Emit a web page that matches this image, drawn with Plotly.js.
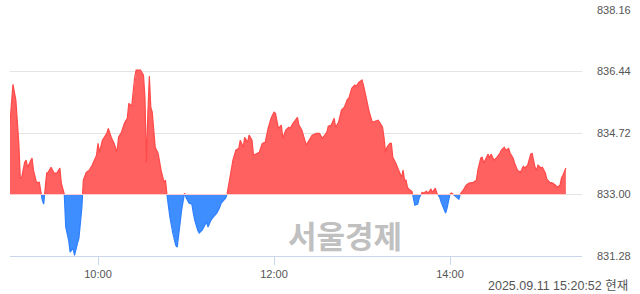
<!DOCTYPE html>
<html>
<head>
<meta charset="utf-8">
<script src="https://cdn.plot.ly/plotly-3.0.1.min.js"></script>
<style>html,body{margin:0;padding:0;background:#fff;}#chart{width:640px;height:294px;}</style>
</head>
<body>
<div id="chart"></div>
<script>
// ---- data ----
var sessionStart = '09:00';
var sessionEnd = '15:30';
var baseValue = 833.00;           // previous close (baseline)
var times = [
 '09:00','09:02','09:04','09:06','09:07','09:08','09:10','09:11','09:12','09:15','09:16','09:18','09:20','09:22','09:23','09:24','09:25','09:26','09:28','09:30','09:32','09:34','09:35','09:37','09:38','09:40','09:41','09:43','09:44','09:46','09:47','09:49','09:50','09:52','09:54','09:56','09:59',
 '10:00','10:01','10:03','10:06','10:07','10:09','10:11','10:13','10:14','10:16','10:18','10:20','10:21','10:23','10:25','10:26','10:29','10:31','10:32','10:33','10:34','10:35','10:36','10:37','10:39','10:41','10:43','10:45','10:46','10:47','10:49','10:51','10:53','10:54','10:55','10:57','10:59',
 '11:00','11:02','11:04','11:05','11:06','11:08','11:09','11:11','11:12','11:14','11:15','11:17','11:19','11:21','11:23','11:24','11:27','11:28','11:30','11:32','11:34','11:36','11:37','11:39','11:40','11:42','11:43','11:45','11:46','11:48','11:50','11:52','11:54','11:56','11:58',
 '12:00','12:01','12:03','12:05','12:06','12:08','12:10','12:11','12:13','12:16','12:17','12:19','12:21','12:22','12:24','12:26','12:29','12:31','12:33','12:36','12:37','12:39','12:41','12:42','12:44','12:46','12:48','12:50','12:51','12:53','12:55','12:56','12:58',
 '13:00','13:01','13:02','13:03','13:05','13:07','13:09','13:11','13:12','13:14','13:15','13:16','13:17','13:19','13:20','13:21','13:23','13:24','13:25','13:27','13:28','13:29','13:30','13:31','13:32','13:34','13:35','13:36','13:38','13:39','13:41','13:42','13:44','13:45','13:47','13:48','13:50','13:51','13:53','13:54','13:56','13:57','13:58',
 '14:00','14:01','14:03','14:05','14:06','14:07','14:09','14:11','14:13','14:14','14:16','14:18','14:19','14:21','14:22','14:23','14:24','14:26','14:27','14:28','14:30','14:32','14:34','14:35','14:37','14:38','14:40','14:41','14:43','14:44','14:46','14:48','14:50','14:51','14:53','14:55','14:56','14:57','14:58','14:59',
 '15:00','15:02','15:03','15:05','15:06','15:08','15:10','15:12','15:13','15:15','15:16','15:17','15:19'
];
var values = [
 834.99,836.08,835.64,834.43,833.46,833.48,833.90,833.96,833.76,834.02,833.68,833.34,833.34,832.84,832.73,833.20,833.60,833.62,833.76,833.60,833.60,833.74,833.32,833.01,832.09,831.72,831.39,831.50,831.30,831.64,831.78,832.64,833.40,833.62,833.68,833.82,834.10,
 834.43,834.18,834.52,834.71,834.85,834.60,834.43,834.18,834.60,834.74,834.99,835.13,835.55,835.47,836.28,836.48,836.48,836.34,835.72,833.90,835.27,836.31,835.44,835.30,834.32,834.15,833.68,833.34,833.40,833.00,832.37,831.92,831.58,831.53,831.92,832.56,833.04,
 832.92,832.76,832.73,832.48,832.28,832.00,831.92,832.00,832.09,832.23,832.09,832.28,832.39,832.48,832.64,832.76,832.90,833.01,833.48,833.96,834.24,834.29,834.52,834.32,834.60,834.46,834.66,834.52,834.10,834.15,834.18,834.43,834.46,834.85,835.13,
 835.30,835.27,834.85,834.94,834.57,834.80,834.88,834.85,834.99,835.16,834.94,834.80,834.52,834.38,834.52,834.66,834.71,834.71,834.57,834.74,834.91,834.94,835.13,834.88,835.02,835.36,835.44,835.66,835.69,835.97,836.06,836.03,836.14,
 836.20,836.06,835.86,835.64,835.30,835.02,835.05,835.08,835.02,834.88,834.60,834.18,834.32,834.43,834.43,834.04,833.88,833.76,833.68,833.48,833.68,833.40,833.40,833.20,833.15,833.09,832.92,832.70,832.73,832.90,833.06,833.04,833.09,833.04,833.15,833.06,833.18,833.04,832.92,832.78,832.56,832.48,832.62,
 833.01,833.04,832.98,832.92,832.87,833.01,833.12,833.26,833.32,833.32,833.34,833.40,833.68,834.02,834.04,833.88,833.96,834.13,834.02,834.13,833.96,834.04,834.15,834.24,834.32,834.24,834.29,834.15,834.02,833.88,833.68,833.62,833.79,833.74,833.82,834.13,834.15,833.96,833.76,833.68,
 833.82,833.74,833.76,833.60,833.43,833.34,833.32,833.26,833.20,833.26,833.46,833.54,833.74
];
var xTickLabels = ['10:00','12:00','14:00'];
var yTickValues = [831.28, 833.00, 834.72, 836.44, 838.16];
var stampText = '2025.09.11 15:20:52 현재';
var watermarkText = '서울경제';

// ---- helpers ----
function toMin(s){ var p = s.split(':'); return (+p[0])*60 + (+p[1]); }
var t0 = toMin(sessionStart);
var xs = times.map(function(s){ return toMin(s) - t0; });

// split into above / below baseline, inserting the crossing points
var fx = [], upY = [], dnY = [], lineUp = [], lineDn = [];
function pushPt(x, v, cross){
  fx.push(x);
  upY.push(Math.max(v, baseValue));
  dnY.push(Math.min(v, baseValue));
  lineUp.push(cross || v >= baseValue ? v : null);
  lineDn.push(cross || v <= baseValue ? v : null);
}
for (var i = 0; i < xs.length; i++) {
  pushPt(xs[i], values[i], false);
  if (i < xs.length - 1) {
    var a = values[i] - baseValue, b = values[i+1] - baseValue;
    if (a * b < 0) {
      var xc = xs[i] + (xs[i+1] - xs[i]) * (a / (a - b));
      pushPt(xc, baseValue, true);
    }
  }
}
var baseY = fx.map(function(){ return baseValue; });

var red = '#ff4a4a', redFill = 'rgba(255,96,96,1)';
var blue = '#2f80ff', blueFill = 'rgba(62,142,255,1)';

var traces = [
  {x: fx, y: baseY, mode: 'lines', line: {width: 0, color: 'rgba(0,0,0,0)'}, hoverinfo: 'skip', showlegend: false},
  {x: fx, y: upY, mode: 'lines', line: {width: 0, color: red}, fill: 'tonexty', fillcolor: redFill, hoverinfo: 'skip', showlegend: false},
  {x: fx, y: baseY, mode: 'lines', line: {width: 0, color: 'rgba(0,0,0,0)'}, hoverinfo: 'skip', showlegend: false},
  {x: fx, y: dnY, mode: 'lines', line: {width: 0, color: blue}, fill: 'tonexty', fillcolor: blueFill, hoverinfo: 'skip', showlegend: false},
  {x: fx, y: lineUp, mode: 'lines', line: {width: 1.2, color: red}, connectgaps: false, hoverinfo: 'skip', showlegend: false},
  {x: fx, y: lineDn, mode: 'lines', line: {width: 1.2, color: blue}, connectgaps: false, hoverinfo: 'skip', showlegend: false}
];

var tickFont = {family: 'Liberation Sans, Arial, sans-serif', size: 11, color: '#555555'};

var layout = {
  width: 640, height: 294,
  margin: {l: 10, r: 58, t: 10, b: 38, pad: 0},
  paper_bgcolor: '#ffffff', plot_bgcolor: '#ffffff',
  showlegend: false,
  xaxis: {
    type: 'linear',
    range: [0, toMin(sessionEnd) - t0],
    tickvals: xTickLabels.map(function(s){ return toMin(s) - t0; }),
    ticktext: xTickLabels,
    showgrid: false, zeroline: false,
    showline: true, linecolor: '#c9d5ea', linewidth: 1,
    ticks: 'outside', ticklen: 8, tickcolor: '#c9d5ea', tickwidth: 1,
    tickfont: tickFont,
    fixedrange: true
  },
  yaxis: {
    side: 'right',
    range: [yTickValues[0], yTickValues[yTickValues.length - 1]],
    tickvals: yTickValues,
    ticktext: yTickValues.map(function(v){ return v.toFixed(2); }),
    showgrid: true, gridcolor: '#e4e4e4', gridwidth: 1,
    zeroline: false, showline: false, ticks: '',
    ticklabelstandoff: 14,
    tickfont: tickFont,
    fixedrange: true
  },
  shapes: [{
    type: 'line', xref: 'x', yref: 'y', layer: 'above',
    x0: xs[0], x1: xs[xs.length - 1], y0: baseValue, y1: baseValue,
    line: {color: 'rgba(255,205,205,1)', width: 1}
  }],
  annotations: [
    {text: '<b>' + watermarkText + '</b>', xref: 'paper', yref: 'paper', x: 0.585, y: 0.087,
     xanchor: 'center', yanchor: 'middle', showarrow: false,
     font: {family: 'Noto Sans CJK KR, sans-serif', size: 31, color: '#c0c0c0'}},
    {text: stampText, xref: 'paper', yref: 'paper', x: 1.084, y: -0.122,
     xanchor: 'right', yanchor: 'middle', showarrow: false,
     font: {family: 'Liberation Sans, Noto Sans CJK KR, sans-serif', size: 12.5, color: '#555555'}}
  ]
};

Plotly.newPlot('chart', traces, layout, {staticPlot: true, displayModeBar: false});
</script>
</body>
</html>
